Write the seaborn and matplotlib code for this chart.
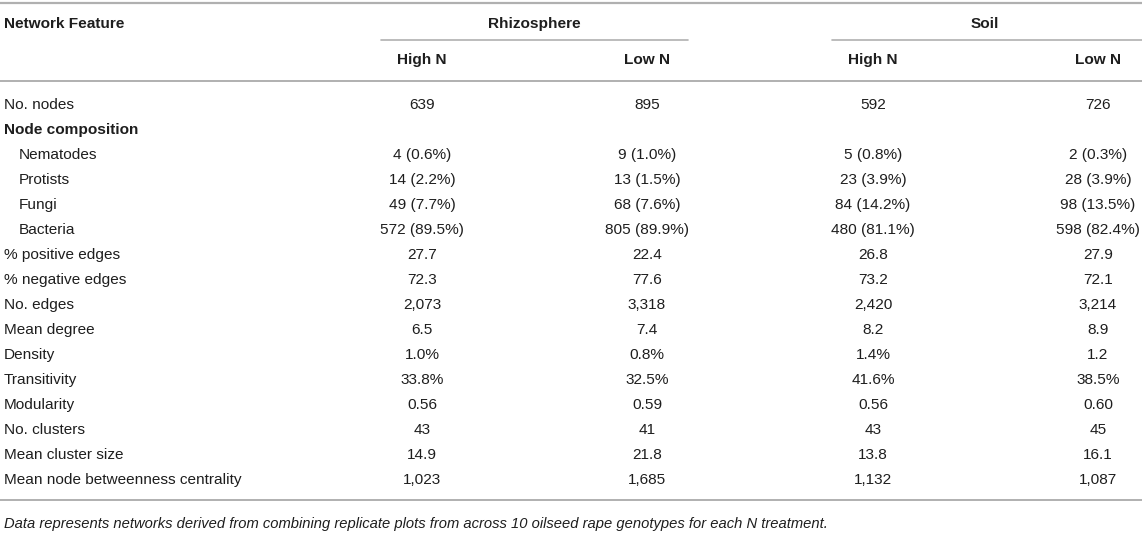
import matplotlib
matplotlib.use("Agg")
import matplotlib.pyplot as plt
import seaborn as sns

# table content
features = ["No. nodes", "Node composition", "Nematodes", "Protists", "Fungi", "Bacteria",
            "% positive edges", "% negative edges", "No. edges", "Mean degree", "Density",
            "Transitivity", "Modularity", "No. clusters", "Mean cluster size",
            "Mean node betweenness centrality"]
indented = ["Nematodes", "Protists", "Fungi", "Bacteria"]
bold_rows = ["Node composition"]

groups = ["Rhizosphere", "Soil"]
treatments = ["High N", "Low N", "High N", "Low N"]

rhizo_high = ["639", "", "4 (0.6%)", "14 (2.2%)", "49 (7.7%)", "572 (89.5%)", "27.7", "72.3",
              "2,073", "6.5", "1.0%", "33.8%", "0.56", "43", "14.9", "1,023"]
rhizo_low = ["895", "", "9 (1.0%)", "13 (1.5%)", "68 (7.6%)", "805 (89.9%)", "22.4", "77.6",
             "3,318", "7.4", "0.8%", "32.5%", "0.59", "41", "21.8", "1,685"]
soil_high = ["592", "", "5 (0.8%)", "23 (3.9%)", "84 (14.2%)", "480 (81.1%)", "26.8", "73.2",
             "2,420", "8.2", "1.4%", "41.6%", "0.56", "43", "13.8", "1,132"]
soil_low = ["726", "", "2 (0.3%)", "28 (3.9%)", "98 (13.5%)", "598 (82.4%)", "27.9", "72.1",
            "3,214", "8.9", "1.2", "38.5%", "0.60", "45", "16.1", "1,087"]
columns = [rhizo_high, rhizo_low, soil_high, soil_low]

footnote = ("Data represents networks derived from combining replicate plots from across "
            "10 oilseed rape genotypes for each N treatment.")

sns.set_theme(style="white")
plt.rcParams["font.family"] = ["Liberation Sans", "DejaVu Sans"]

W, H = 1142, 548
fig = plt.figure(figsize=(W / 100, H / 100), dpi=100)
ax = fig.add_axes([0, 0, 1, 1])
ax.set_xlim(0, W)
ax.set_ylim(H, 0)
ax.axis("off")

txt = "#1e1e1e"
line_c = "#b0b0b0"
fs = 11.1
base = 5  # baseline offset below row centre (about half the cap height)

col_x = [422, 647, 873, 1098]
group_x = [534, 985]
group_lines = [(381, 688), (832, W)]

# horizontal rules
ax.plot([0, W], [3, 3], color=line_c, lw=1.6)
for x0, x1 in group_lines:
    ax.plot([x0, x1], [40, 40], color=line_c, lw=1.2)
ax.plot([0, W], [81, 81], color=line_c, lw=1.4)
ax.plot([0, W], [500, 500], color=line_c, lw=1.4)

# header
ax.text(4, 23 + base, "Network Feature", fontsize=fs, fontweight="bold", color=txt, va="baseline")
for gx, g in zip(group_x, groups):
    ax.text(gx, 23 + base, g, fontsize=fs, fontweight="bold", color=txt, va="baseline", ha="center")
for cx, t in zip(col_x, treatments):
    ax.text(cx, 59 + base, t, fontsize=fs, fontweight="bold", color=txt, va="baseline", ha="center")

# body
y0, dy = 104, 25
for i, f in enumerate(features):
    y = y0 + i * dy + base
    x = 19 if f in indented else 4
    w = "bold" if f in bold_rows else "normal"
    ax.text(x, y, f, fontsize=fs, fontweight=w, color=txt, va="baseline")
    for cx, col in zip(col_x, columns):
        if col[i]:
            ax.text(cx, y, col[i], fontsize=fs, color=txt, va="baseline", ha="center")

ax.text(4, 523 + base, footnote, fontsize=fs * 0.955, fontstyle="italic", color=txt, va="baseline")

fig.savefig("out.png", dpi=100)
